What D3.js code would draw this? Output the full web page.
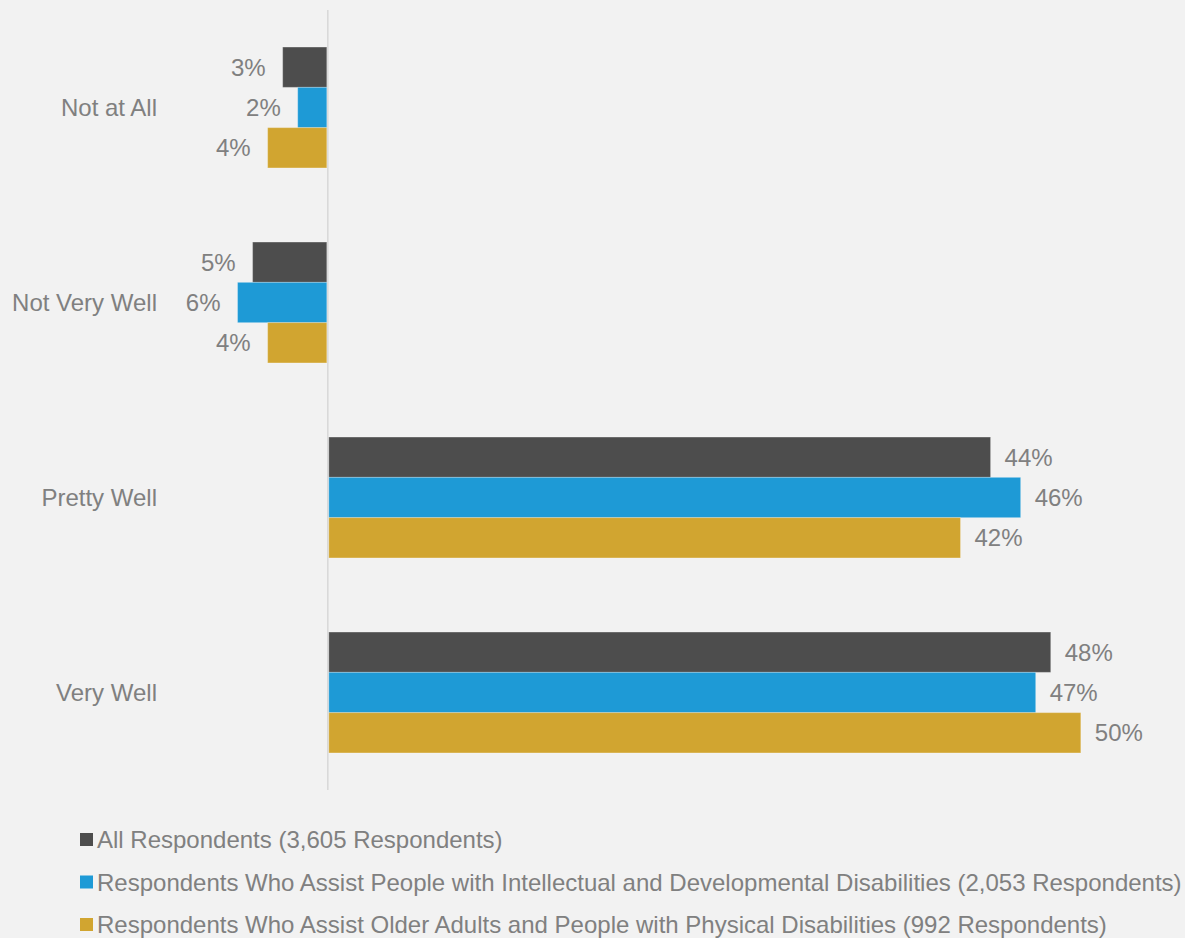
<!DOCTYPE html>
<html>
<head>
<meta charset="utf-8">
<script src="https://cdn.jsdelivr.net/npm/d3@7"></script>
<style>
  html, body { margin: 0; padding: 0; background: #f2f2f2; }
  svg { display: block; }
  text { font-family: "Liberation Sans", Arial, sans-serif; }
</style>
</head>
<body>
<svg id="chart" width="1185" height="938"></svg>
<script>
// Response categories (top to bottom)
const categories = ["Not at All", "Not Very Well", "Pretty Well", "Very Well"];

// Share of respondents (%); unfavourable answers are drawn to the left of zero
const allRespondents   = [-3, -5, 44, 48];
const iddRespondents   = [-2, -6, 46, 47];
const olderRespondents = [-4, -4, 42, 50];

const seriesNames = [
  "All Respondents (3,605 Respondents)",
  "Respondents Who Assist People with Intellectual and Developmental Disabilities (2,053 Respondents)",
  "Respondents Who Assist Older Adults and People with Physical Disabilities (992 Respondents)"
];
const seriesColors = ["#4d4d4d", "#1e9ad6", "#d1a530"];
const seriesValues = [allRespondents, iddRespondents, olderRespondents];

const svg = d3.select("#chart");
const textColor = "#808080";
const fontSize = 24;

// Horizontal value scale: zero sits at the vertical axis
const x = d3.scaleLinear().domain([-20, 55]).range([27, 1155]);

// Category bands
const y = d3.scaleBand()
  .domain(categories)
  .range([10, 790])
  .paddingInner(0.38)
  .paddingOuter(0.19);

// Series bands inside each category
const ySub = d3.scaleBand()
  .domain(d3.range(seriesNames.length))
  .range([0, y.bandwidth()]);

// Vertical zero axis
svg.append("line")
  .attr("x1", x(0)).attr("x2", x(0))
  .attr("y1", 10).attr("y2", 790)
  .attr("stroke", "#d9d9d9")
  .attr("stroke-width", 1.6);

// Bars
const rows = [];
seriesValues.forEach((vals, s) => {
  vals.forEach((v, i) => rows.push({ s, cat: categories[i], v }));
});

const g = svg.append("g");
g.selectAll("rect.bar")
  .data(rows)
  .join("rect")
  .attr("class", "bar")
  .attr("x", d => Math.min(x(0), x(d.v)) + (d.v < 0 ? 0 : 1))
  .attr("y", d => y(d.cat) + ySub(d.s))
  .attr("width", d => Math.abs(x(d.v) - x(0)) - (d.v < 0 ? 1 : 0))
  .attr("height", ySub.bandwidth())
  .attr("fill", d => seriesColors[d.s])
  .attr("stroke", "rgba(255,255,255,0.25)")
  .attr("stroke-width", 1);

// Value labels
g.selectAll("text.val")
  .data(rows)
  .join("text")
  .attr("class", "val")
  .attr("x", d => d.v < 0 ? x(d.v) - 17 : x(d.v) + 15)
  .attr("y", d => y(d.cat) + ySub(d.s) + ySub.bandwidth() / 2)
  .attr("dy", "0.35em")
  .attr("text-anchor", d => d.v < 0 ? "end" : "start")
  .attr("fill", textColor)
  .attr("font-size", fontSize)
  .text(d => Math.abs(d.v) + "%");

// Category labels
svg.append("g")
  .selectAll("text")
  .data(categories)
  .join("text")
  .attr("x", 157)
  .attr("y", d => y(d) + y.bandwidth() / 2)
  .attr("dy", "0.35em")
  .attr("text-anchor", "end")
  .attr("fill", textColor)
  .attr("font-size", fontSize)
  .text(d => d);

// Legend
const legend = svg.append("g")
  .selectAll("g")
  .data(seriesNames)
  .join("g")
  .attr("transform", (d, i) => `translate(80, ${840 + i * 42.5})`);

legend.append("rect")
  .attr("x", 0).attr("y", -7)
  .attr("width", 13).attr("height", 13)
  .attr("fill", (d, i) => seriesColors[i]);

legend.append("text")
  .attr("x", 17)
  .attr("y", 0)
  .attr("dy", "0.35em")
  .attr("fill", textColor)
  .attr("font-size", fontSize)
  .text(d => d);
</script>
</body>
</html>
